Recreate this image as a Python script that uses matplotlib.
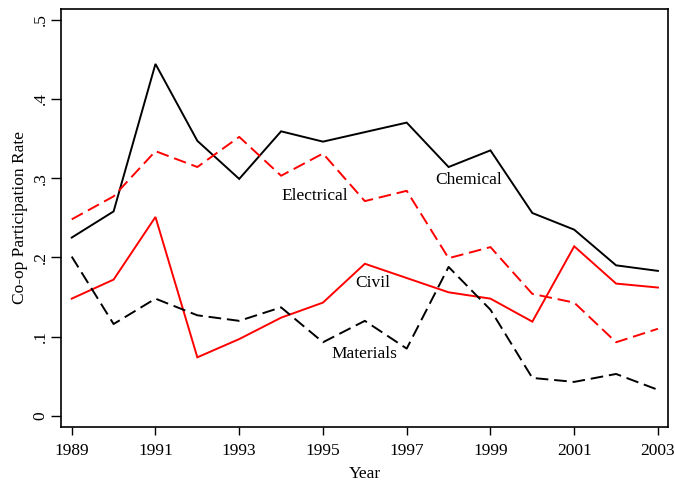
import matplotlib
matplotlib.use("Agg")
import matplotlib.pyplot as plt

years = list(range(1989, 2004))
chemical = [0.225, 0.258, 0.444, 0.347, 0.299, 0.359, 0.346, 0.358, 0.370, 0.314, 0.335, 0.256, 0.235, 0.190, 0.183]
electrical = [0.248, 0.277, 0.334, 0.314, 0.352, 0.303, 0.331, 0.271, 0.284, 0.199, 0.213, 0.154, 0.143, 0.093, 0.110]
civil = [0.148, 0.172, 0.251, 0.074, 0.097, 0.124, 0.143, 0.192, 0.174, 0.156, 0.148, 0.119, 0.214, 0.167, 0.162]
materials = [0.201, 0.116, 0.148, 0.127, 0.120, 0.137, 0.093, 0.120, 0.085, 0.188, 0.134, 0.048, 0.043, 0.053, 0.033]
ytick_vals = [0, 0.1, 0.2, 0.3, 0.4, 0.5]
ytick_labels = ["0", ".1", ".2", ".3", ".4", ".5"]
xtick_vals = [1989, 1991, 1993, 1995, 1997, 1999, 2001, 2003]

plt.rcParams['font.family'] = ['Liberation Serif', 'DejaVu Serif']
fs = 12.5

fig = plt.figure(figsize=(6.75, 4.83), dpi=100)
ax = fig.add_axes([61/675, 1-426.7/483, (668-61)/675, (426.7-9.3)/483])

lw = 1.4
ax.plot(years, chemical, color='black', lw=lw, solid_joinstyle='miter')
ax.plot(years, electrical, color='#ff0000', lw=lw, dashes=(6.5, 3))
ax.plot(years, civil, color='#ff0000', lw=lw, solid_joinstyle='miter')
ax.plot(years, materials, color='black', lw=lw, dashes=(6.5, 3))

ax.text(1994.8, 0.278, "Electrical", fontsize=fs, ha='center', va='center')
ax.text(1998.48, 0.298, "Chemical", fontsize=fs, ha='center', va='center')
ax.text(1996.2, 0.168, "Civil", fontsize=fs, ha='center', va='center')
ax.text(1996.0, 0.078, "Materials", fontsize=fs, ha='center', va='center')

ax.set_xlim(1988.744, 2003.24)
ax.set_ylim(-0.0135, 0.5129)
ax.set_yticks(ytick_vals)
ax.set_yticklabels(ytick_labels, rotation=90, va='center')
ax.set_xticks(xtick_vals)
ax.tick_params(axis='y', length=7, width=1, labelsize=fs, pad=2)
ax.tick_params(axis='x', length=6, width=1, labelsize=fs, pad=6)
for s in ax.spines.values():
    s.set_linewidth(1.2)

ax.set_xlabel("Year", fontsize=fs, labelpad=5)
ax.set_ylabel("Co-op Participation Rate", fontsize=fs, labelpad=3)

fig.savefig("out.png", dpi=100)
